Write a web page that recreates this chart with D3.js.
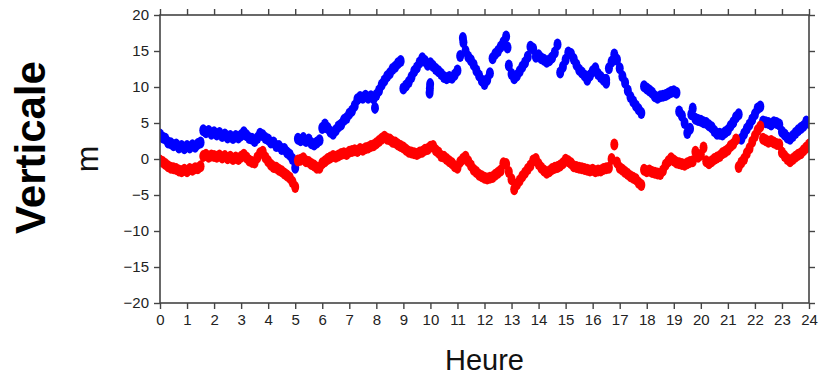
<!DOCTYPE html>
<html>
<head>
<meta charset="utf-8">
<script src="https://cdn.jsdelivr.net/npm/d3@7/dist/d3.min.js"></script>
<style>
  html, body { margin: 0; padding: 0; background: #fff; }
  svg { display: block; }
  text { font-family: "Liberation Sans", Arial, Helvetica, sans-serif; }
</style>
</head>
<body>
<svg id="chart" width="820" height="375"></svg>
<script>
// ---- data ----
const hourStart = 0, hourStep = 0.1;   // sample times for the series below
const xTicks = d3.range(0, 25, 1);
const yTicks = [-20, -15, -10, -5, 0, 5, 10, 15, 20];
const xLabel = "Heure";
const yLabel = "m";
const sideTitle = "Verticale";

const blueValues = [
  3.4,3.0,2.8,2.3,2.2,1.9,2.0,1.6,1.8,1.5,
  1.8,1.6,1.9,1.7,2.1,2.3,4.0,3.7,3.9,3.5,
  3.7,3.4,3.6,3.2,3.4,3.0,3.2,2.9,3.2,3.0,
  3.3,3.7,3.3,2.9,2.8,2.5,2.9,3.5,3.3,2.9,
  2.7,2.3,2.3,1.8,1.8,1.4,1.4,0.9,0.6,0.0,
  -1.2,2.8,2.6,2.9,2.5,2.7,2.2,2.0,2.3,2.6,
  4.3,4.8,4.3,3.8,3.5,4.0,4.5,4.8,5.4,5.7,
  6.3,6.7,7.4,8.3,8.6,8.5,8.8,8.5,8.7,8.4,
  8.9,9.5,10.3,10.9,11.5,11.9,12.5,12.8,13.3,13.6,
  9.8,10.2,10.7,11.4,12.2,12.7,13.4,14.0,13.6,13.1,
  13.3,12.9,12.5,12.2,11.8,11.4,11.2,11.4,11.3,11.7,
  12.3,14.3,16.8,15.0,14.2,13.7,13.1,12.3,11.6,10.9,
  10.4,11.0,11.9,14.0,14.6,15.0,15.6,16.2,17.0,13.0,
  11.8,11.2,11.6,12.2,12.8,13.4,14.2,15.6,15.3,14.2,
  14.4,14.0,13.8,13.5,13.7,14.1,14.8,15.9,12.0,12.8,
  13.8,14.8,14.6,13.9,13.1,12.4,12.0,11.6,11.0,11.6,
  12.2,12.6,11.8,11.4,11.0,10.6,12.6,13.5,14.5,13.8,
  12.6,11.5,10.6,9.5,8.6,8.0,7.4,6.9,6.4,10.1,
  9.8,9.5,9.2,8.7,8.5,8.7,8.8,8.9,9.1,9.3,
  9.4,9.2,6.6,6.0,5.0,3.6,4.2,7.0,5.6,5.4,
  5.3,5.1,5.0,4.7,4.4,3.9,3.5,3.5,3.4,3.7,
  4.0,4.6,5.1,5.8,6.2,2.8,3.5,4.2,4.8,5.5,
  6.2,7.0,7.3,5.2,5.1,5.0,4.8,5.1,5.0,4.8,
  3.8,3.4,3.0,2.8,3.2,3.6,4.0,4.3,4.6,5.2,
  5.0
];

const redValues = [
  -0.2,-0.4,-0.7,-1.0,-1.2,-1.3,-1.4,-1.6,-1.7,-1.5,
  -1.7,-1.4,-1.5,-1.3,-1.3,-1.0,0.4,0.6,0.3,0.5,
  0.4,0.3,0.5,0.2,0.4,0.1,0.3,0.0,0.2,0.0,
  0.3,0.6,0.2,-0.2,-0.4,-0.5,0.2,0.8,1.0,0.2,
  -0.3,-0.8,-1.1,-1.2,-1.5,-1.7,-2.0,-2.3,-2.6,-3.2,
  -3.9,-0.2,-0.1,0.1,-0.3,-0.4,-0.7,-0.9,-1.2,-1.2,
  -0.6,-0.3,0.0,0.2,0.4,0.3,0.5,0.7,0.8,0.7,
  1.0,1.1,1.2,1.1,1.4,1.3,1.5,1.6,1.8,1.9,
  2.2,2.5,2.8,3.1,2.8,2.7,2.4,2.3,2.0,1.8,
  1.6,1.3,1.0,0.9,0.8,0.7,0.9,1.0,1.3,1.4,
  1.7,1.8,1.2,0.9,0.4,0.3,0.0,-0.3,-0.6,-1.0,
  -1.2,-0.4,0.0,0.3,-0.3,-0.9,-1.5,-1.8,-2.2,-2.4,
  -2.6,-2.7,-2.6,-2.5,-2.2,-1.9,-1.6,-0.6,-0.7,-1.8,
  -2.8,-4.2,-3.5,-3.0,-2.4,-1.9,-1.4,-0.9,-0.2,0.0,
  -0.7,-1.2,-1.6,-1.9,-1.7,-1.4,-1.2,-1.1,-0.9,-0.6,
  -0.1,-0.3,-0.6,-1.0,-1.1,-1.2,-1.3,-1.4,-1.5,-1.6,
  -1.5,-1.7,-1.6,-1.6,-1.4,-1.3,-1.2,0.0,2.0,-0.5,
  -1.2,-1.5,-1.8,-2.1,-2.4,-2.6,-2.8,-3.3,-3.6,-1.5,
  -1.7,-1.6,-1.8,-1.9,-2.0,-2.1,-1.6,-0.8,-0.3,0.1,
  -0.2,-0.5,-0.6,-0.7,-0.8,-0.6,-0.4,-0.3,1.0,0.3,
  0.6,1.6,-0.3,-0.6,-0.3,0.0,0.2,0.4,0.8,1.0,
  1.3,1.8,2.1,2.7,-1.1,-0.5,0.0,0.8,1.5,2.4,
  3.2,4.0,4.5,2.8,2.6,2.4,2.5,2.3,2.1,2.0,
  0.9,0.4,0.0,-0.3,0.0,0.3,0.6,0.8,1.2,1.6,
  2.0
];

// isolated stray samples
const blueExtraHours  = [7.95, 9.97, 9.98, 9.99, 11.22, 12.85, 16.5, 19.65];
const blueExtraValues = [7.1, 9.2, 9.8, 10.4, 16.2, 15.5, 11.0, 6.2];

// ---- layout ----
const W = 820, H = 375;
const M = { left: 160, right: 11, top: 15, bottom: 72 };
const svg = d3.select("#chart");

const x = d3.scaleLinear().domain([0, 24]).range([M.left, W - M.right]);
const y = d3.scaleLinear().domain([-20, 20]).range([H - M.bottom, M.top]);

const toPoints = (vals) => vals.map((v, i) => ({ h: hourStart + i * hourStep, v }));
const bluePts = toPoints(blueValues).concat(blueExtraHours.map((h, i) => ({ h, v: blueExtraValues[i] })));
const redPts = toPoints(redValues);

// clip
svg.append("clipPath").attr("id", "clip").append("rect")
  .attr("x", M.left).attr("y", M.top)
  .attr("width", x(24) - M.left).attr("height", y(-20) - M.top);

const gData = svg.append("g").attr("clip-path", "url(#clip)");
function drawSeries(pts, color) {
  gData.append("g").selectAll("ellipse").data(pts).join("ellipse")
    .attr("cx", d => x(d.h)).attr("cy", d => y(d.v))
    .attr("rx", 4).attr("ry", 6).attr("fill", color);
}
drawSeries(bluePts, "#0000ff");
drawSeries(redPts, "#ff0000");

// axes
const axisColor = "#444";
const tickFont = "15px";
const gx = svg.append("g").attr("transform", `translate(0,${y(-20)})`)
  .call(d3.axisBottom(x).tickValues(xTicks).tickFormat(d3.format("d")).tickSize(6).tickPadding(5));
const gxt = svg.append("g").attr("transform", `translate(0,${y(20)})`)
  .call(d3.axisTop(x).tickValues(xTicks).tickFormat("").tickSize(6));
const gy = svg.append("g").attr("transform", `translate(${x(0)},0)`)
  .call(d3.axisLeft(y).tickValues(yTicks).tickFormat(d => d < 0 ? "\u2212" + Math.abs(d) : d).tickSize(6).tickPadding(5));
const gyr = svg.append("g").attr("transform", `translate(${x(24)},0)`)
  .call(d3.axisRight(y).tickValues(yTicks).tickFormat("").tickSize(6));

[gx, gxt, gy, gyr].forEach(g => {
  g.select(".domain").remove();
  g.selectAll(".tick line").attr("stroke", axisColor).attr("stroke-width", 1.4);
  g.selectAll(".tick text").attr("fill", "#222").style("font-size", tickFont)
    .style("font-family", "'Liberation Sans', Arial, sans-serif");
});

// frame
svg.append("rect")
  .attr("x", x(0)).attr("y", y(20))
  .attr("width", x(24) - x(0)).attr("height", y(-20) - y(20))
  .attr("fill", "none").attr("stroke", axisColor).attr("stroke-width", 1.6);

// titles
svg.append("text").text(xLabel)
  .attr("x", (x(0) + x(24)) / 2).attr("y", 370)
  .attr("text-anchor", "middle").attr("fill", "#111")
  .style("font-size", "29px");

svg.append("text").text(yLabel)
  .attr("transform", `translate(98,${y(0)}) rotate(-90)`)
  .attr("text-anchor", "middle").attr("fill", "#111")
  .style("font-size", "32px");

svg.append("text").text(sideTitle)
  .attr("transform", `translate(45,147.5) rotate(-90)`)
  .attr("text-anchor", "middle").attr("fill", "#000")
  .style("font-size", "42px").style("font-weight", "bold");
</script>
</body>
</html>
